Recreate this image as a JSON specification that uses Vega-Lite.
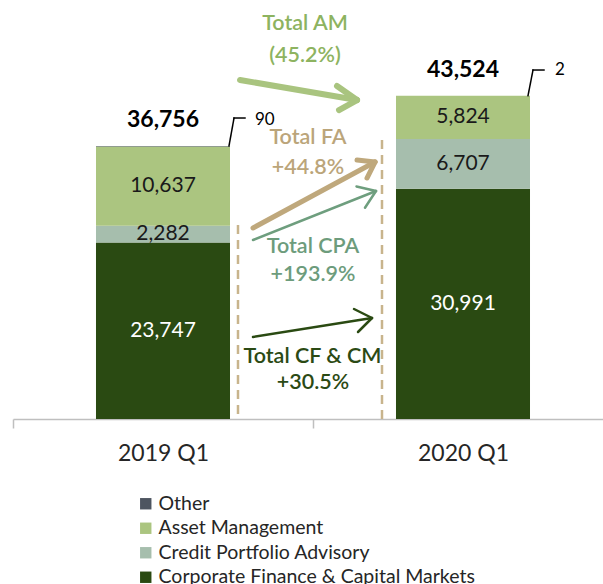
{
  "$schema": "https://vega.github.io/schema/vega-lite/v6.json",
  "width": 590,
  "height": 419,
  "autosize": {"type": "none"},
  "padding": {"left": 13, "top": 0, "right": 0, "bottom": 165},
  "background": "white",
  "config": {"view": {"stroke": null}, "font": "Lato"},
  "datasets": {
    "revenue": [
      {"quarter": "2019 Q1", "segment": "Corporate Finance & Capital Markets", "value": 23747, "stackOrder": 1},
      {"quarter": "2019 Q1", "segment": "Credit Portfolio Advisory", "value": 2282, "stackOrder": 2},
      {"quarter": "2019 Q1", "segment": "Asset Management", "value": 10637, "stackOrder": 3},
      {"quarter": "2019 Q1", "segment": "Other", "value": 90, "stackOrder": 4},
      {"quarter": "2020 Q1", "segment": "Corporate Finance & Capital Markets", "value": 30991, "stackOrder": 1},
      {"quarter": "2020 Q1", "segment": "Credit Portfolio Advisory", "value": 6707, "stackOrder": 2},
      {"quarter": "2020 Q1", "segment": "Asset Management", "value": 5824, "stackOrder": 3},
      {"quarter": "2020 Q1", "segment": "Other", "value": 2, "stackOrder": 4}
    ],
    "arrows": [
      {"arrow": "AM", "u": 0.7567, "v": 45629, "u2": 1.1467, "v2": 42937},
      {"arrow": "AM", "u": 1.08, "v": 44822, "u2": 1.1467, "v2": 42937},
      {"arrow": "AM", "u": 1.0867, "v": 41591, "u2": 1.1467, "v2": 42937},
      {"arrow": "FA", "u": 0.8, "v": 25709, "u2": 1.2067, "v2": 34592},
      {"arrow": "FA", "u": 1.1467, "v": 34861, "u2": 1.2067, "v2": 34592},
      {"arrow": "FA", "u": 1.18, "v": 32439, "u2": 1.2067, "v2": 34592},
      {"arrow": "CPA", "u": 0.8, "v": 24093, "u2": 1.21, "v2": 30689},
      {"arrow": "CPA", "u": 1.145, "v": 31308, "u2": 1.21, "v2": 30689},
      {"arrow": "CPA", "u": 1.1733, "v": 28441, "u2": 1.21, "v2": 30689},
      {"arrow": "CF", "u": 0.8, "v": 11037, "u2": 1.1967, "v2": 13595},
      {"arrow": "CF", "u": 1.1367, "v": 14806, "u2": 1.1967, "v2": 13595},
      {"arrow": "CF", "u": 1.15, "v": 11710, "u2": 1.1967, "v2": 13595}
    ],
    "guides": [
      {"u": 0.75, "v": 26112},
      {"u": 1.23, "v": 37553}
    ],
    "leaders": [
      {"quarter": "2019 Q1", "u": 0.72, "v": 36756, "u2": 0.7367, "v2": 40515},
      {"quarter": "2019 Q1", "u": 0.7367, "v": 40515, "u2": 0.7733, "v2": 40515},
      {"quarter": "2020 Q1", "u": 1.7167, "v": 43524, "u2": 1.7333, "v2": 46975},
      {"quarter": "2020 Q1", "u": 1.7333, "v": 46975, "u2": 1.77, "v2": 46975}
    ],
    "notes": [
      {"group": "AM", "label": "Total AM", "u": 0.9733, "v": 53167},
      {"group": "AM", "label": "(45.2%)", "u": 0.9733, "v": 48860},
      {"group": "FA", "label": "Total FA", "u": 0.9833, "v": 37823},
      {"group": "FA", "label": "+44.8%", "u": 0.9833, "v": 33785},
      {"group": "CPA", "label": "Total CPA", "u": 1.0, "v": 23151},
      {"group": "CPA", "label": "+193.9%", "u": 1.0, "v": 19382},
      {"group": "CF", "label": "Total CF & CM", "u": 0.9983, "v": 8345},
      {"group": "CF", "label": "+30.5%", "u": 1.0, "v": 4846}
    ]
  },
  "layer": [
    {
      "data": {"name": "revenue"},
      "layer": [
        {
          "mark": {"type": "bar", "width": {"band": 0.4467}},
          "encoding": {
            "x": {
              "field": "quarter", "type": "nominal",
              "scale": {"domain": ["2019 Q1", "2020 Q1"], "range": [0, 600], "paddingInner": 0, "paddingOuter": 0},
              "axis": {"title": null, "domainColor": "#bfbfbf", "domainWidth": 1.5, "tickColor": "#bfbfbf", "tickWidth": 1.5, "tickSize": 9, "tickBand": "extent", "labelFont": "Lato", "labelFontSize": 23, "labelColor": "#262626", "labelPadding": 14, "labelAngle": 0}
            },
            "y": {"field": "value", "type": "quantitative", "stack": "zero", "scale": {"domain": [0, 56400], "nice": false}, "axis": null},
            "color": {
              "field": "segment", "type": "nominal",
              "scale": {"domain": ["Other", "Asset Management", "Credit Portfolio Advisory", "Corporate Finance & Capital Markets"], "range": ["#4d5560", "#abc580", "#a6bead", "#2a4a12"]},
              "legend": {"orient": "none", "legendX": 123, "legendY": 494, "title": null, "symbolType": "square", "symbolSize": 130, "symbolStrokeWidth": 0, "labelFont": "Lato", "labelFontSize": 19.5, "labelLimit": 500, "labelColor": "#262626", "rowPadding": 3.5, "labelOffset": 3, "padding": 0, "direction": "vertical"}
            },
            "order": {"field": "stackOrder", "type": "quantitative"}
          }
        },
        {
          "transform": [{"filter": "datum.segment !== 'Other'"}],
          "mark": {"type": "text", "font": "Lato", "fontSize": 21},
          "encoding": {
            "x": {"field": "quarter", "type": "nominal"},
            "y": {"field": "value", "type": "quantitative", "stack": "zero", "bandPosition": 0.5},
            "detail": {"field": "segment"},
            "order": {"field": "stackOrder", "type": "quantitative"},
            "text": {"field": "value", "type": "quantitative", "format": ","},
            "color": {"condition": {"test": "datum.segment === 'Corporate Finance & Capital Markets'", "value": "#ffffff"}, "value": "#1a1a1a"}
          }
        },
        {
          "transform": [{"aggregate": [{"op": "sum", "field": "value", "as": "total"}], "groupby": ["quarter"]}],
          "mark": {"type": "text", "font": "Lato", "fontSize": 23, "fontWeight": "bold", "dy": -26, "color": "#000000"},
          "encoding": {
            "x": {"field": "quarter", "type": "nominal"},
            "y": {"field": "total", "type": "quantitative"},
            "text": {"field": "total", "type": "quantitative", "format": ","}
          }
        },
        {
          "transform": [
            {"joinaggregate": [{"op": "sum", "field": "value", "as": "total"}], "groupby": ["quarter"]},
            {"filter": "datum.segment === 'Other'"}
          ],
          "mark": {"type": "text", "font": "Lato", "fontSize": 17, "align": "left", "dx": 92, "dy": -26, "color": "#000000"},
          "encoding": {
            "x": {"field": "quarter", "type": "nominal"},
            "y": {"field": "total", "type": "quantitative"},
            "text": {"field": "value", "type": "quantitative", "format": ","}
          }
        }
      ]
    },
    {
      "layer": [
        {
          "data": {"name": "guides"},
          "mark": {"type": "rule", "strokeDash": [9, 6], "strokeWidth": 2.5, "color": "#c8b48c"},
          "encoding": {
            "x": {"field": "u", "type": "quantitative", "scale": {"domain": [0, 1.96667], "nice": false, "zero": false}, "axis": null},
            "y": {"field": "v", "type": "quantitative", "scale": {"domain": [0, 56400], "nice": false}, "axis": null},
            "y2": {"datum": 0}
          }
        },
        {
          "data": {"name": "leaders"},
          "mark": {"type": "rule", "strokeWidth": 1.5, "color": "#000000", "strokeCap": "square"},
          "encoding": {
            "x": {"field": "u", "type": "quantitative"},
            "y": {"field": "v", "type": "quantitative"},
            "x2": {"field": "u2"},
            "y2": {"field": "v2"}
          }
        },
        {
          "data": {"name": "arrows"},
          "transform": [{"filter": "datum.arrow === 'AM'"}],
          "mark": {"type": "rule", "strokeWidth": 6, "color": "#a9c47f", "strokeCap": "round"},
          "encoding": {
            "x": {"field": "u", "type": "quantitative"},
            "y": {"field": "v", "type": "quantitative"},
            "x2": {"field": "u2"},
            "y2": {"field": "v2"}
          }
        },
        {
          "data": {"name": "arrows"},
          "transform": [{"filter": "datum.arrow === 'FA'"}],
          "mark": {"type": "rule", "strokeWidth": 5, "color": "#bfa87c", "strokeCap": "round"},
          "encoding": {
            "x": {"field": "u", "type": "quantitative"},
            "y": {"field": "v", "type": "quantitative"},
            "x2": {"field": "u2"},
            "y2": {"field": "v2"}
          }
        },
        {
          "data": {"name": "arrows"},
          "transform": [{"filter": "datum.arrow === 'CPA'"}],
          "mark": {"type": "rule", "strokeWidth": 2.5, "color": "#6e9e7e", "strokeCap": "round"},
          "encoding": {
            "x": {"field": "u", "type": "quantitative"},
            "y": {"field": "v", "type": "quantitative"},
            "x2": {"field": "u2"},
            "y2": {"field": "v2"}
          }
        },
        {
          "data": {"name": "arrows"},
          "transform": [{"filter": "datum.arrow === 'CF'"}],
          "mark": {"type": "rule", "strokeWidth": 2.5, "color": "#2a4a12", "strokeCap": "round"},
          "encoding": {
            "x": {"field": "u", "type": "quantitative"},
            "y": {"field": "v", "type": "quantitative"},
            "x2": {"field": "u2"},
            "y2": {"field": "v2"}
          }
        },
        {
          "data": {"name": "notes"},
          "mark": {"type": "text", "font": "Lato", "fontSize": 21.5, "fontWeight": 600},
          "encoding": {
            "x": {"field": "u", "type": "quantitative"},
            "y": {"field": "v", "type": "quantitative"},
            "text": {"field": "label", "type": "nominal"},
            "color": {
              "condition": [
                {"test": "datum.group === 'AM'", "value": "#8db360"},
                {"test": "datum.group === 'FA'", "value": "#bba57a"},
                {"test": "datum.group === 'CPA'", "value": "#6d9c7c"}
              ],
              "value": "#2b4a14"
            }
          }
        }
      ]
    }
  ],
  "resolve": {"scale": {"x": "independent"}}
}
